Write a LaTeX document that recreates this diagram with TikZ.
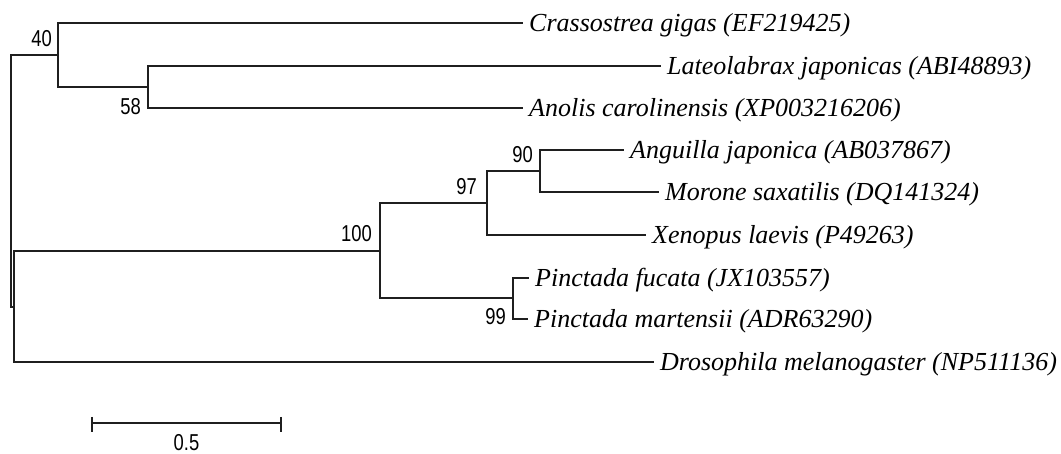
\documentclass[tikz,border=0pt]{standalone}
\usepackage{fontspec}
\setmainfont{Liberation Serif}
\newfontfamily\bootsans{Liberation Sans}
\newcommand{\narrow}[1]{\scalebox{0.8}[1]{#1}}
\begin{document}
\begin{tikzpicture}[x=1pt,y=-1pt,
  branch/.style={line width=1.5pt, draw=black!88, line cap=rect},
  tip/.style={anchor=base west, inner sep=0pt, xshift=7pt, yshift=-8.5pt,
              font=\fontsize{26}{31}\selectfont\itshape},
  boot/.style={anchor=base east, inner sep=0pt,
               font=\bootsans\fontsize{23}{27}\selectfont}]
\useasboundingbox (0,0) rectangle (1061,454);

% internal nodes
\coordinate (root) at (11,181);
\coordinate (n40)  at (58,55);
\coordinate (n58)  at (148,87);
\coordinate (nB)   at (14,307);
\coordinate (n100) at (380,251);
\coordinate (n97)  at (487,203);
\coordinate (n90)  at (540,171);
\coordinate (n99)  at (513,298);

% tips
\coordinate (tCg) at (522,23);
\coordinate (tLj) at (660,66);
\coordinate (tAc) at (522,108);
\coordinate (tAj) at (623,150);
\coordinate (tMs) at (658,192);
\coordinate (tXl) at (645,235);
\coordinate (tPf) at (528,278);
\coordinate (tPm) at (527,319);
\coordinate (tDm) at (653,362);

% branches
\draw[branch] (root) |- (n40);
\draw[branch] (root) |- (nB);
\draw[branch] (n40) |- (tCg);
\draw[branch] (n40) |- (n58);
\draw[branch] (n58) |- (tLj);
\draw[branch] (n58) |- (tAc);
\draw[branch] (nB) |- (n100);
\draw[branch] (nB) |- (tDm);
\draw[branch] (n100) |- (n97);
\draw[branch] (n100) |- (n99);
\draw[branch] (n97) |- (n90);
\draw[branch] (n97) |- (tXl);
\draw[branch] (n90) |- (tAj);
\draw[branch] (n90) |- (tMs);
\draw[branch] (n99) |- (tPf);
\draw[branch] (n99) |- (tPm);

% taxon labels
\node[tip] (lCg) at (tCg) {Crassostrea gigas (EF219425)};
\node[tip] (lLj) at (tLj) {Lateolabrax japonicas (ABI48893)};
\node[tip] (lAc) at (tAc) {Anolis carolinensis (XP003216206)};
\node[tip] (lAj) at (tAj) {Anguilla japonica (AB037867)};
\node[tip] (lMs) at (tMs) {Morone saxatilis (DQ141324)};
\node[tip] (lXl) at (tXl) {Xenopus laevis (P49263)};
\node[tip] (lPf) at (tPf) {Pinctada fucata (JX103557)};
\node[tip] (lPm) at (tPm) {Pinctada martensii (ADR63290)};
\node[tip] (lDm) at (tDm) {Drosophila melanogaster (NP511136)};

% bootstrap values
\node[boot] (b40)  at (52,47)   {\narrow{40}};
\node[boot] (b58)  at (141,115) {\narrow{58}};
\node[boot] (b90)  at (533,163) {\narrow{90}};
\node[boot] (b97)  at (477,195) {\narrow{97}};
\node[boot] (b100) at (372,242) {\narrow{100}};
\node[boot] (b99)  at (506,325) {\narrow{99}};

% scale bar
\coordinate (sbL) at (92,423);
\coordinate (sbR) at (281,423);
\draw[branch, line cap=butt] (sbL) -- (sbR);
\draw[branch, line cap=butt] ([yshift=6pt]sbL) -- ([yshift=-9pt]sbL);
\draw[branch, line cap=butt] ([yshift=6pt]sbR) -- ([yshift=-9pt]sbR);
\node[boot, anchor=base] (sbT) at (186.5,450) {\narrow{0.5}};
\end{tikzpicture}
\end{document}
